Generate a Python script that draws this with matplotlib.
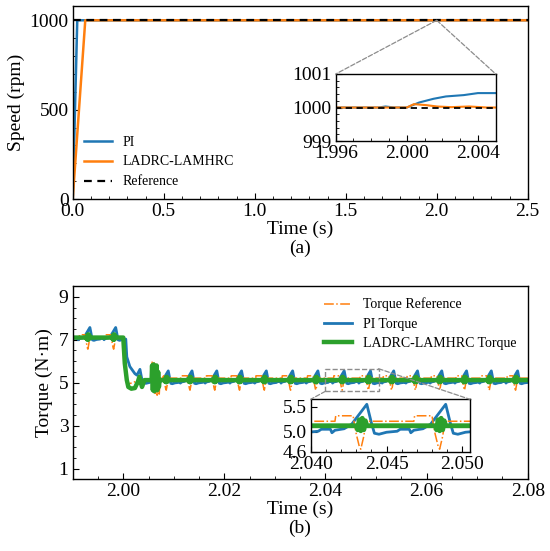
import matplotlib
matplotlib.use("Agg")
import matplotlib.pyplot as plt
from matplotlib.ticker import MultipleLocator, FormatStrFormatter, FixedLocator
from matplotlib.patches import ConnectionPatch, Rectangle

plt.rcParams['font.family'] = ['Liberation Serif', 'DejaVu Serif']
plt.rcParams['mathtext.fontset'] = 'stix'

BLUE = '#1f77b4'
ORANGE = '#ff7f0e'
GREEN = '#2ca02c'

# ---------------- (a) speed data ----------------
spd_t_pi = [0.0, 0.025, 1.996, 1.9984, 1.9988, 1.9993, 2.0, 2.0007, 2.0015,
            2.0022, 2.0032, 2.0040, 2.0050, 2.5]
spd_pi = [0.0, 1000.0, 1000.0, 1000.0, 1000.03, 1000.0, 1000.0, 1000.15,
          1000.26, 1000.33, 1000.37, 1000.43, 1000.43, 1000.43]
spd_t_ladrc = [0.0, 0.069, 2.0, 2.0004, 2.0011, 2.0017, 2.0025, 2.0035,
               2.0045, 2.5]
spd_ladrc = [0.0, 1000.0, 1000.0, 1000.10, 1000.07, 1000.03, 1000.01,
             1000.03, 1000.0, 1000.0]
spd_t_ref = [0.0, 2.5]
spd_ref = [1000.0, 1000.0]

# ---------------- (b) torque data ----------------
# times of the periodic ripple pulses (PI torque peak times)
pulse_times = [1.9934, 1.9985, 2.0089, 2.0136, 2.0185, 2.0234, 2.0283,
               2.0335, 2.0385, 2.0437, 2.0489, 2.0535, 2.0582, 2.0630,
               2.0679, 2.0728, 2.0780]
# levels before / after the load step at t = 2.000 s
pi_level = [7.05, 5.03]
ref_level = [7.12, 5.21]
ladrc_level = [7.10, 5.12]

# pulse shapes (offset time, offset value)
pi_pulse_dt = [-0.0030, -0.0024, -0.0023, -0.0021, -0.0015, -0.0010,
               -0.0005, 0.0, 0.0003, 0.0005, 0.0008, 0.0013, 0.0020]
pi_pulse_dv = [0.02, 0.02, -0.05, 0.0, 0.03, 0.12, 0.32, 0.52, 0.15,
               -0.06, -0.08, -0.04, -0.02]
ref_pulse_dt = [-0.0021, -0.00205, -0.0009, -0.00085, -0.0007, -0.0005,
                -0.0004, -0.0002, -0.00005, 0.0002]
ref_pulse_dv = [0.0, 0.11, 0.11, 0.0, -0.25, -0.50, -0.56, -0.3, 0.0, 0.0]
ladrc_pulse_dt = [-0.0007, -0.0006, -0.0005, -0.0004, -0.0003, -0.0002,
                  -0.0001, 0.0]
ladrc_pulse_dv = [0.0, -0.08, 0.12, -0.10, 0.15, -0.08, 0.10, 0.0]

# step transient segments
pi_trans_t = [2.0000, 2.0007, 2.0013, 2.0023, 2.0027, 2.0033, 2.0036,
              2.0039, 2.0045]
pi_trans_v = [7.05, 6.2, 5.75, 5.42, 5.35, 5.62, 5.25, 5.0, 4.97]
ref_trans_t = [2.0000, 2.0004, 2.0010, 2.0020, 2.0030, 2.0034, 2.0038,
               2.0045, 2.0056, 2.0057, 2.0059, 2.0061, 2.0063, 2.0065,
               2.0067, 2.0069, 2.0071, 2.0073, 2.0075]
ref_trans_v = [7.12, 5.3, 4.95, 5.0, 5.15, 5.3, 4.9, 5.15, 5.15, 6.0, 4.8,
               5.95, 4.5, 5.9, 4.35, 5.6, 4.4, 5.2, 5.15]
ladrc_trans_t = [2.0000, 2.0003, 2.0007, 2.0010, 2.0016, 2.0023, 2.0029,
                 2.0032, 2.0037, 2.0042, 2.0056, 2.0057, 2.00585, 2.0060,
                 2.00615, 2.0063, 2.00645, 2.0066, 2.00675, 2.0069,
                 2.00705, 2.0072]
ladrc_trans_v = [7.1, 5.9, 5.12, 4.8, 4.72, 4.75, 5.05, 5.28, 4.8, 5.12,
                 5.12, 5.8, 4.65, 5.85, 4.6, 5.75, 4.7, 5.8, 4.65, 5.5,
                 4.8, 5.12]

t_start, t_step, t_end = 1.989, 2.0, 2.081


def assemble(levels, pdt, pdv, tr_t, tr_v):
    ts, vs = [t_start], [levels[0]]

    def add(t, v):
        if t > ts[-1]:
            ts.append(t)
            vs.append(v)

    for tp in [p for p in pulse_times if p < t_step]:
        for dt, dv in zip(pdt, pdv):
            add(tp + dt, levels[0] + dv)
    for t, v in zip(tr_t, tr_v):
        add(t, v)
    for tp in [p for p in pulse_times if p > t_step]:
        for dt, dv in zip(pdt, pdv):
            add(tp + dt, levels[1] + dv)
    add(t_end, levels[1])
    return ts, vs


pi_t, pi_v = assemble(pi_level, pi_pulse_dt, pi_pulse_dv, pi_trans_t, pi_trans_v)
ref_t, ref_v = assemble(ref_level, ref_pulse_dt, ref_pulse_dv, ref_trans_t, ref_trans_v)
la_t, la_v = assemble(ladrc_level, ladrc_pulse_dt, ladrc_pulse_dv, ladrc_trans_t, ladrc_trans_v)

# ---------------- figure ----------------
fig = plt.figure(figsize=(5.5, 5.51), dpi=100)
TS = 14


def style(ax, size=TS):
    ax.tick_params(which='both', direction='in', top=False, right=False,
                   labelsize=size, pad=3)
    ax.tick_params(which='major', length=4, width=0.8)
    ax.tick_params(which='minor', length=2, width=0.6)
    for s in ax.spines.values():
        s.set_linewidth(1.0)
        s.set_color('black')


# (a)
ax1 = fig.add_axes([0.1322, 0.6388, 0.8273, 0.3503])
l1, = ax1.plot(spd_t_pi, spd_pi, color=BLUE, lw=1.8, label='PI')
l2, = ax1.plot(spd_t_ladrc, spd_ladrc, color=ORANGE, lw=1.8, label='LADRC-LAMHRC')
l3, = ax1.plot(spd_t_ref, spd_ref, color='black', lw=1.6, ls=(0, (3.5, 2.5)),
               label='Reference')
ax1.set_xlim(0, 2.5)
ax1.set_ylim(0, 1080)
ax1.xaxis.set_major_locator(MultipleLocator(0.5))
ax1.xaxis.set_minor_locator(MultipleLocator(0.1))
ax1.xaxis.set_major_formatter(FormatStrFormatter('%.1f'))
ax1.yaxis.set_major_locator(FixedLocator([0, 500, 1000]))
ax1.yaxis.set_minor_locator(MultipleLocator(100))
style(ax1)
ax1.set_xlabel('Time (s)', fontsize=TS, labelpad=0)
ax1.set_ylabel('Speed (rpm)', fontsize=TS)
ax1.yaxis.set_label_coords(-0.105, 0.5)
ax1.legend(handles=[l1, l2, l3], loc='lower left', bbox_to_anchor=(0.025, 0.055),
           frameon=False, fontsize=10, borderpad=0, borderaxespad=0,
           handlelength=2.0, handletextpad=0.8, labelspacing=0.5)
fig.text(0.5455, 1 - 248.3 / 551, '(a)', ha='center', va='center', fontsize=TS)

axi1 = fig.add_axes([0.6104, 0.7441, 0.2909, 0.1216])
axi1.plot(spd_t_pi, spd_pi, color=BLUE, lw=1.5)
axi1.plot(spd_t_ladrc, spd_ladrc, color=ORANGE, lw=1.5)
axi1.plot(spd_t_ref, spd_ref, color='black', lw=1.3, ls=(0, (3.5, 2.5)))
axi1.set_xlim(1.996, 2.005)
axi1.set_ylim(999, 1001)
axi1.xaxis.set_major_locator(FixedLocator([1.996, 2.000, 2.004]))
axi1.xaxis.set_minor_locator(MultipleLocator(0.001))
axi1.xaxis.set_major_formatter(FormatStrFormatter('%.3f'))
axi1.yaxis.set_major_locator(FixedLocator([999, 1000, 1001]))
axi1.yaxis.set_minor_locator(MultipleLocator(0.2))
style(axi1)
for xy in [(0, 1), (1, 1)]:
    cp = ConnectionPatch(xyA=(2.0, 1000), coordsA=ax1.transData,
                         xyB=xy, coordsB=axi1.transAxes,
                         color='#8c8c8c', lw=0.9, ls='--')
    fig.add_artist(cp)

# (b)
ax2 = fig.add_axes([0.1322, 0.1301, 0.8273, 0.3508])
b1, = ax2.plot(pi_t, pi_v, color=BLUE, lw=2.0, label='PI Torque')
b2, = ax2.plot(ref_t, ref_v, color=ORANGE, lw=1.1, ls='-.', label='Torque Reference')
b3, = ax2.plot(la_t, la_v, color=GREEN, lw=3.2, label='LADRC-LAMHRC Torque')
ax2.set_xlim(1.99, 2.08)
ax2.set_ylim(0.5, 9.5)
ax2.xaxis.set_major_locator(FixedLocator([2.00, 2.02, 2.04, 2.06, 2.08]))
ax2.xaxis.set_minor_locator(MultipleLocator(0.005))
ax2.xaxis.set_major_formatter(FormatStrFormatter('%.2f'))
ax2.yaxis.set_major_locator(FixedLocator([1, 3, 5, 7, 9]))
ax2.yaxis.set_minor_locator(MultipleLocator(0.5))
style(ax2)
ax2.set_xlabel('Time (s)', fontsize=TS, labelpad=0)
ax2.set_ylabel('Torque (N·m)', fontsize=TS)
ax2.yaxis.set_label_coords(-0.043, 0.5)
ax2.legend(handles=[b2, b1, b3], loc='upper left', bbox_to_anchor=(0.552, 0.94),
           frameon=False, fontsize=10, borderpad=0, borderaxespad=0,
           handlelength=2.0, handletextpad=0.8, labelspacing=0.45)
fig.text(0.5455, 1 - 528 / 551, '(b)', ha='center', va='center', fontsize=TS)

rect = Rectangle((2.040, 4.6), 0.0105, 1.05, fill=False, ec='#8c8c8c',
                 lw=1.0, ls='--', zorder=5)
ax2.add_patch(rect)

axi2 = fig.add_axes([0.5649, 0.1802, 0.2896, 0.0951])
axi2.plot(pi_t, pi_v, color=BLUE, lw=2.0)
axi2.plot(ref_t, ref_v, color=ORANGE, lw=1.1, ls='-.')
axi2.plot(la_t, la_v, color=GREEN, lw=3.5)
axi2.set_xlim(2.040, 2.0505)
axi2.set_ylim(4.6, 5.65)
axi2.xaxis.set_major_locator(FixedLocator([2.040, 2.045, 2.050]))
axi2.xaxis.set_minor_locator(MultipleLocator(0.001))
axi2.xaxis.set_major_formatter(FormatStrFormatter('%.3f'))
axi2.yaxis.set_major_locator(FixedLocator([4.6, 5.0, 5.5]))
axi2.yaxis.set_major_formatter(FormatStrFormatter('%.1f'))
style(axi2)
for xyA, xyB in [((2.040, 4.6), (0, 1)), ((2.0505, 5.65), (1, 1))]:
    cp = ConnectionPatch(xyA=xyA, coordsA=ax2.transData,
                         xyB=xyB, coordsB=axi2.transAxes,
                         color='#8c8c8c', lw=0.9, ls='--')
    fig.add_artist(cp)

fig.savefig('out.png', dpi=100)
